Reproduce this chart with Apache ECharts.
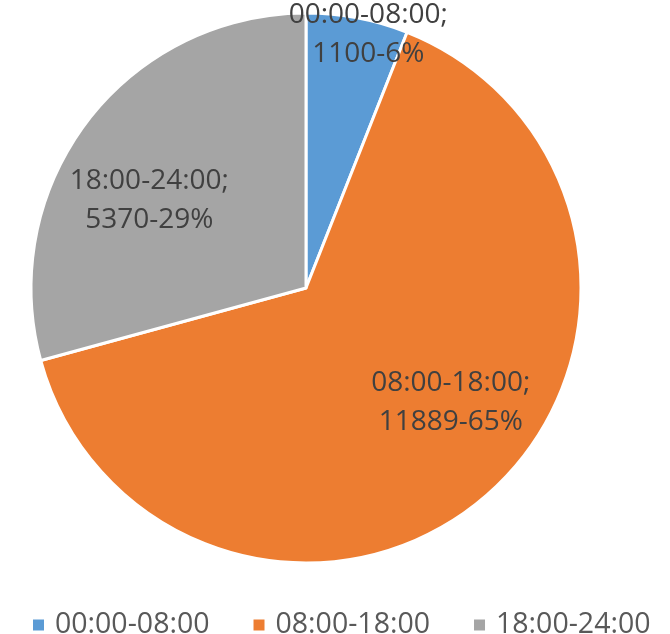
<!DOCTYPE html>
<html>
<head>
<meta charset="utf-8">
<script src="https://cdn.jsdelivr.net/npm/echarts@6/dist/echarts.min.js"></script>
<style>
  html, body { margin: 0; padding: 0; background: #fff; }
  #chart { width: 670px; height: 634px; }
</style>
</head>
<body>
<div id="chart"></div>
<script>
// time slots and counts
var categories = ['00:00-08:00', '08:00-18:00', '18:00-24:00'];
var values = [1100, 11889, 5370];
var colors = ['#5B9BD5', '#ED7D31', '#A5A5A5'];
// nudge each label from the default 'inside' spot
var labelOffsets = [[36, -115], [51, 10], [-45, -2]];

var chart = echarts.init(document.getElementById('chart'));

var pieData = categories.map(function (name, i) {
  return {
    name: name,
    value: values[i],
    itemStyle: { color: colors[i] },
    label: { offset: labelOffsets[i] }
  };
});

chart.setOption({
  animation: false,
  legend: {
    data: categories,
    left: 26,
    top: 604,
    icon: 'rect',
    itemWidth: 13,
    itemHeight: 13,
    itemGap: 42,
    textStyle: {
      fontFamily: 'Open Sans',
      fontSize: 28.5,
      lineHeight: 32,
      color: '#595959',
      padding: [0, 0, 0, 5]
    }
  },
  series: [
    {
      type: 'pie',
      center: [306, 288],
      radius: [0, 275],
      startAngle: 90,
      clockwise: true,
      percentPrecision: 0,
      avoidLabelOverlap: false,
      itemStyle: { borderColor: '#fff', borderWidth: 3 },
      label: {
        show: true,
        position: 'inside',
        formatter: '{b};\n{c}-{d}%',
        fontFamily: 'Open Sans',
        fontSize: 28,
        lineHeight: 39,
        color: '#404040'
      },
      labelLine: { show: false },
      emphasis: { disabled: true },
      data: pieData
    }
  ]
});
</script>
</body>
</html>
